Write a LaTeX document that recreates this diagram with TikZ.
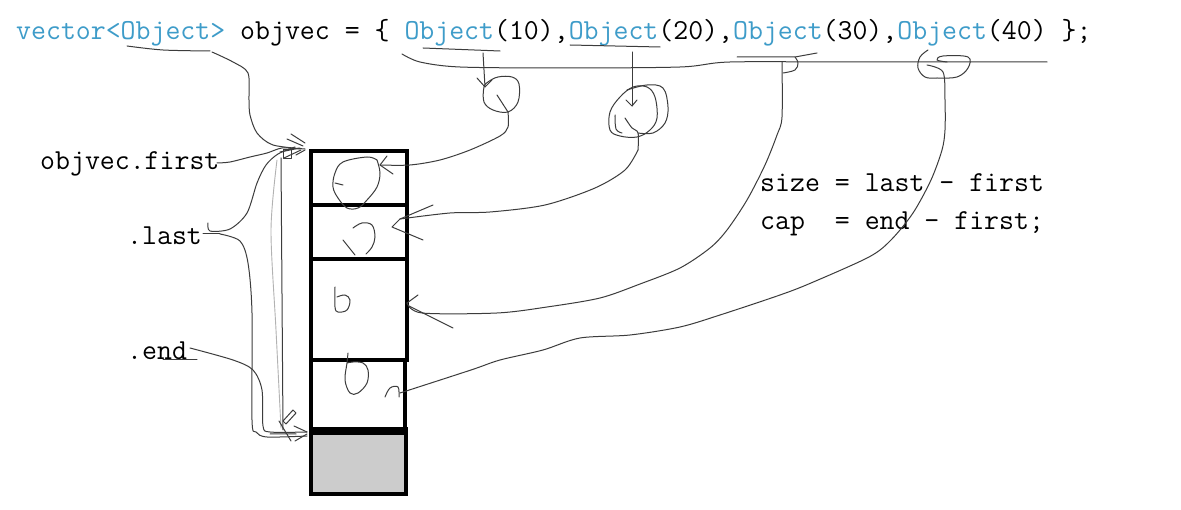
\documentclass[tikz,border=0pt]{standalone}
\usepackage{fontspec}
\newfontfamily\codefont{Latin Modern Mono}
\definecolor{kw}{RGB}{62,156,201}
\definecolor{ink}{RGB}{60,60,60}
\definecolor{cellgray}{RGB}{204,204,204}
\tikzset{
  code/.style={font=\codefont\fontsize{29}{31}\selectfont, text=black, inner sep=0pt, anchor=base west},
  hand/.style={draw=ink, line width=1pt, line cap=round, line join=round},
  faint/.style={draw=black!30, line width=0.9pt, line cap=round},
  cellbox/.style={draw=black, line width=4pt, rectangle, inner sep=0pt, anchor=north west},
}
\begin{document}
\begin{tikzpicture}[x=1pt,y=-1pt]
\useasboundingbox (0,0) rectangle (1181,510);
\fill[white] (0,0) rectangle (1181,510);

% ---- texts ----
\node[code] (decl) at (16,40) {\textcolor{kw}{vector<Object>} objvec = \{ \textcolor{kw}{Object}(10),\textcolor{kw}{Object}(20),\textcolor{kw}{Object}(30),\textcolor{kw}{Object}(40) \};};
\node[code] (lfirst) at (40,170) {objvec.first};
\node[code] (llast) at (127,245) {.last};
\node[code] (lend) at (127,360) {.end};
\node[code] (size) at (760,192) {size = last - first};
\node[code] (cap) at (760,230) {cap~~= end - first;};

% ---- memory cells ----
\node[cellbox, fill=cellgray, minimum width=95pt, minimum height=61pt] (c5) at (309,431) {};
\node[cellbox, minimum width=96pt, minimum height=54pt] (c1) at (309,149) {};
\node[cellbox, minimum width=96pt, minimum height=54pt] (c2) at (309,203) {};
\node[cellbox, minimum width=96pt, minimum height=101pt] (c3) at (309,257) {};
\node[cellbox, minimum width=94pt, minimum height=73pt] (c4) at (309,358) {};
\draw[line width=7pt] (c5.north west) -- (c5.north east);

% ---- vector<Object> -> first ----
\draw[hand] plot[smooth, tension=0.5] coordinates {(127,46) (163,50) (210,51)};
\draw[hand] plot[smooth, tension=0.5] coordinates {(212,52) (233,62) (248,73) (249,100) (250,115) (257,133) (273,145) (305,149)};
% scribbled arrow heads at top-left
\draw[hand] (287,139) -- (303,146) (291,134) -- (305,143) (280,152) -- (300,148) (284,158) -- (301,150) (296,155) -- (305,150);
\draw[hand] (283,150) rectangle (291,159);
% objvec.first label connector
\draw[hand] plot[smooth, tension=0.5] coordinates {(217,163) (230,162) (250,157) (267,153) (282,148) (300,149)};

% ---- .last connectors ----
\draw[hand] (203,234) -- (220,234);
\draw[hand] plot[smooth, tension=0.5] coordinates {(208,223) (210,231) (230,229) (247,213) (257,183) (266,165) (278,154) (295,147)};
\draw[hand] plot[smooth, tension=0.5] coordinates {(220,234) (240,241) (248,263) (252,313) (252,420) (256,432) (267,437) (307,436)};

% ---- vertical size lines ----
\draw[hand] (281,158) -- (283,430);
\draw[faint] plot[smooth, tension=0.5] coordinates {(277,160) (271,230) (276,330) (281,428)};

% ---- .end connector ----
\draw[hand] (163,360) -- (197,360);
\draw[hand] plot[smooth, tension=0.5] coordinates {(190,348) (233,360) (253,370) (262,390) (263,426) (270,432) (307,432)};
\draw[hand] (270,434) -- (296,434) (279,421) -- (291,441) (294,426) -- (307,432) (295,441) -- (307,434);
\draw[hand] (283,421) -- (293,410) -- (296,413) -- (286,424) -- cycle;

% ---- long line under the initialiser ----
\draw[hand] plot[smooth, tension=0.5] coordinates {(402,54) (420,62) (460,67) (560,68) (680,67) (730,62) (850,62) (1047,62)};

% ---- Object(10) ----
\draw[hand] (423,48) -- (500,51);
\draw[hand] (483,53) -- (485,87);
\draw[hand] (477,78) -- (485,87) -- (492,80);
\draw[hand] plot[smooth cycle, tension=0.6] coordinates {(484,87) (484,102) (493,110) (508,112) (518,102) (519,84) (512,77) (498,77) (488,82)};
\draw[hand] (497,95) -- (508,112);
\draw[hand] plot[smooth, tension=0.5] coordinates {(508,112) (508,127) (500,136) (470,150) (440,160) (410,165) (380,165)};
\draw[hand] (380,165) -- (393,174) (380,165) -- (387,156);
\draw[hand] plot[smooth, tension=0.6] coordinates {(377,160) (367,157) (343,162) (335,173) (333,187) (338,198) (347,208) (358,208) (367,200) (377,187) (380,173) (377,160)};
\draw[hand] (335,183) -- (343,185);

% ---- Object(20) ----
\draw[hand] (570,45) -- (660,47);
\draw[hand] (632,52) -- (632,106);
\draw[hand] (626,100) -- (632,106) -- (637,100);
\draw[hand] plot[smooth cycle, tension=0.6] coordinates {(620,97) (610,112) (610,130) (620,136) (637,137) (650,130) (657,118) (655,97) (647,87) (633,87)};
\draw[hand] plot[smooth, tension=0.6] coordinates {(627,90) (647,85) (663,88) (668,107) (665,123) (653,133) (638,133)};
\draw[hand] plot[smooth, tension=0.6] coordinates {(615,115) (616,129) (622,133)};
\draw[hand] plot[smooth, tension=0.6] coordinates {(625,118) (632,128) (638,133) (638,150)};
\draw[hand] plot[smooth, tension=0.5] coordinates {(638,150) (625,170) (595,188) (545,205) (490,212) (450,213) (400,219)};
\draw[hand] (400,219) -- (433,205) (400,219) -- (392,227) -- (423,240);
\draw[hand] plot[smooth, tension=0.6] coordinates {(353,228) (362,223) (372,225) (375,237) (372,247) (366,254)};
\draw[hand] (343,240) -- (355,255);

% ---- Object(30) ----
\draw[hand] (737,57) -- (795,57) -- (817,53);
\draw[hand] plot[smooth, tension=0.6] coordinates {(795,57) (798,63) (795,70) (783,73)};
\draw[hand] plot[smooth, tension=0.5] coordinates {(782,62) (782,117) (777,135) (765,165) (747,200) (727,230) (710,248) (680,268) (640,284) (600,298) (547,307) (497,313) (422,313) (407,303)};
\draw[hand] (407,303) -- (418,295) (409,306) -- (453,328);
\draw[hand] plot[smooth, tension=0.6] coordinates {(335,287) (335,307) (338,312) (347,310) (350,300) (345,295) (337,297)};

% ---- Object(40) ----
\draw[hand] plot[smooth, tension=0.6] coordinates {(928,50) (920,57) (918,68) (925,77) (937,78) (957,77) (968,68) (968,57) (943,56) (937,60) (947,62)};
\draw[hand] plot[smooth, tension=0.5] coordinates {(927,65) (943,72) (945,100) (945,130) (942,150) (931,180) (913,213) (891,240) (869,257) (811,283) (780,295) (720,315) (680,327) (630,335) (580,338) (543,350) (500,360) (471,370) (400,393)};
\draw[hand] plot[smooth, tension=0.6] coordinates {(385,397) (390,388) (398,387) (399,397)};
\draw[hand] plot[smooth, tension=0.6] coordinates {(348,353) (347,363) (345,380) (350,393) (358,393) (367,383) (368,370) (363,363) (353,362) (347,363)};
\end{tikzpicture}
\end{document}
